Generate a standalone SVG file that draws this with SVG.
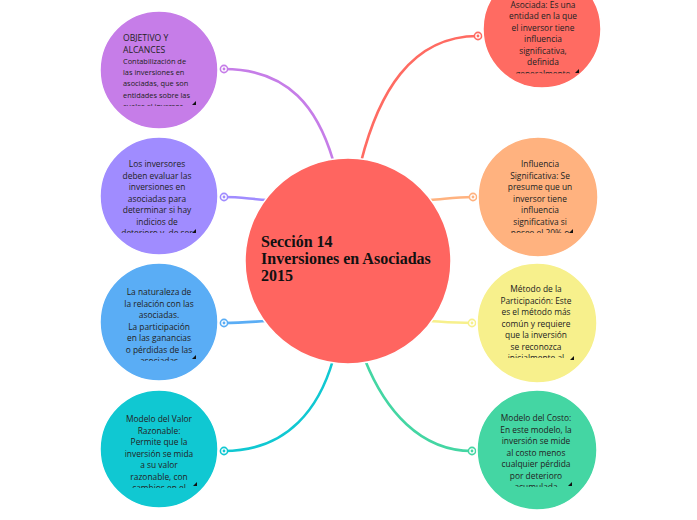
<svg xmlns="http://www.w3.org/2000/svg" width="697" height="520" viewBox="0 0 697 520">
<style>
.t{font-family:"Open Sans","Noto Sans",sans-serif;font-size:8.4px;fill:#222;text-anchor:middle}
.tl{font-family:"Open Sans","Noto Sans",sans-serif;fill:#222}
.title{font-family:"Liberation Serif","DejaVu Serif",serif;font-weight:bold;font-size:16px;fill:#111}
.node{stroke:#fff;stroke-width:1.5}
.c{fill:none;stroke-width:2.6;stroke-linecap:round}
.dot{fill:#fff;stroke-width:1.6}
.mk{fill:#111}
</style>
<defs>
<clipPath id="k1"><rect x="100" y="0" width="120" height="106"/></clipPath>
<clipPath id="k2"><rect x="100" y="130" width="120" height="103"/></clipPath>
<clipPath id="k3"><rect x="100" y="260" width="120" height="101"/></clipPath>
<clipPath id="k4"><rect x="100" y="385" width="120" height="103"/></clipPath>
<clipPath id="k5"><rect x="480" y="0" width="120" height="73.5"/></clipPath>
<clipPath id="k6"><rect x="478" y="130" width="120" height="103"/></clipPath>
<clipPath id="k7"><rect x="478" y="255" width="120" height="103"/></clipPath>
<clipPath id="k8"><rect x="478" y="385" width="120" height="102"/></clipPath>
</defs>
<g id="connectors">
<path class="c" stroke="#c67de8" d="M224,69 C290,69 318,110 333,160"/>
<path class="c" stroke="#a08cff" d="M224,197 C240,197 250,199 268,200"/>
<path class="c" stroke="#5aadf5" d="M224,323 C240,323 250,322 266,321"/>
<path class="c" stroke="#10c8d2" d="M224,451 C290,451 320,405 333,360"/>
<path class="c" stroke="#ff6b62" d="M478,36 C410,36 378,95 361,162"/>
<path class="c" stroke="#ffb27f" d="M473,197 C455,197 445,199 430,200"/>
<path class="c" stroke="#f7f08c" d="M472,323 C455,323 445,322 430,321"/>
<path class="c" stroke="#44d6a3" d="M472,451 C420,451 385,410 365,360"/>
<circle class="dot" stroke="#c67de8" cx="224" cy="69" r="3.6"/><circle fill="#c67de8" cx="224" cy="69" r="1.4"/>
<circle class="dot" stroke="#a08cff" cx="224" cy="197" r="3.6"/><circle fill="#a08cff" cx="224" cy="197" r="1.4"/>
<circle class="dot" stroke="#5aadf5" cx="224" cy="323" r="3.6"/><circle fill="#5aadf5" cx="224" cy="323" r="1.4"/>
<circle class="dot" stroke="#10c8d2" cx="224" cy="451" r="3.6"/><circle fill="#10c8d2" cx="224" cy="451" r="1.4"/>
<circle class="dot" stroke="#ff6b62" cx="478" cy="36" r="3.6"/><circle fill="#ff6b62" cx="478" cy="36" r="1.4"/>
<circle class="dot" stroke="#ffb27f" cx="473" cy="197" r="3.6"/><circle fill="#ffb27f" cx="473" cy="197" r="1.4"/>
<circle class="dot" stroke="#f7f08c" cx="472" cy="323" r="3.6"/><circle fill="#f7f08c" cx="472" cy="323" r="1.4"/>
<circle class="dot" stroke="#44d6a3" cx="472" cy="451" r="3.6"/><circle fill="#44d6a3" cx="472" cy="451" r="1.4"/>
</g>
<g id="center">
<circle class="node" cx="348" cy="261" r="103" fill="#ff6560"/>
<text class="title" x="261" y="247">Sección 14</text>
<text class="title" x="261" y="264">Inversiones en Asociadas</text>
<text class="title" x="261" y="281">2015</text>
</g>
<g id="n1">
<circle class="node" cx="159" cy="70" r="59" fill="#c67de8"/>
<g clip-path="url(#k1)">
<text class="tl" font-size="8.6" x="123" y="41">OBJETIVO Y</text>
<text class="tl" font-size="8.6" x="123" y="53">ALCANCES</text>
<text class="tl" font-size="7.4" x="123" y="64">Contabilización de</text>
<text class="tl" font-size="7.4" x="123" y="75">las inversiones en</text>
<text class="tl" font-size="7.4" x="123" y="86">asociadas, que son</text>
<text class="tl" font-size="7.4" x="123" y="98">entidades sobre las</text>
<text class="tl" font-size="7.4" x="123" y="109">cuales el inversor</text>
</g>
<polygon class="mk" points="192,105 196,101 196,105"/>
</g>
<g id="n2">
<circle class="node" cx="159" cy="196" r="59" fill="#a08cff"/>
<g clip-path="url(#k2)">
<text class="t" x="157" y="167">Los inversores</text>
<text class="t" x="157" y="178.5">deben evaluar las</text>
<text class="t" x="157" y="190">inversiones en</text>
<text class="t" x="157" y="201.5">asociadas para</text>
<text class="t" x="157" y="213">determinar si hay</text>
<text class="t" x="157" y="224.5">indicios de</text>
<text class="t" x="157" y="236">deterioro y, de ser</text>
</g>
<polygon class="mk" points="192,233 196,229 196,233"/>
</g>
<g id="n3">
<circle class="node" cx="159" cy="322" r="59" fill="#5aadf5"/>
<g clip-path="url(#k3)">
<text class="t" x="159" y="295">La naturaleza de</text>
<text class="t" x="159" y="306.5">la relación con las</text>
<text class="t" x="159" y="318">asociadas.</text>
<text class="t" x="159" y="329.5">La participación</text>
<text class="t" x="159" y="341">en las ganancias</text>
<text class="t" x="159" y="352.5">o pérdidas de las</text>
<text class="t" x="159" y="364">asociadas</text>
</g>
<polygon class="mk" points="192,359 196,355 196,359"/>
</g>
<g id="n4">
<circle class="node" cx="159" cy="449" r="59" fill="#10c8d2"/>
<g clip-path="url(#k4)">
<text class="t" x="159" y="422">Modelo del Valor</text>
<text class="t" x="159" y="433.5">Razonable:</text>
<text class="t" x="159" y="445">Permite que la</text>
<text class="t" x="159" y="456.5">inversión se mida</text>
<text class="t" x="159" y="468">a su valor</text>
<text class="t" x="159" y="479.5">razonable, con</text>
<text class="t" x="159" y="491">cambios en el</text>
</g>
<polygon class="mk" points="193,486 197,482 197,486"/>
</g>
<g id="n5">
<circle class="node" cx="542" cy="29" r="59" fill="#ff6b62"/>
<g clip-path="url(#k5)">
<text class="t" x="543" y="7.5">Asociada: Es una</text>
<text class="t" x="543" y="19">entidad en la que</text>
<text class="t" x="543" y="30.5">el inversor tiene</text>
<text class="t" x="543" y="42">influencia</text>
<text class="t" x="543" y="53.5">significativa,</text>
<text class="t" x="543" y="65">definida</text>
<text class="t" x="543" y="76.5">generalmente</text>
</g>
<polygon class="mk" points="575,73 579,69 579,73"/>
</g>
<g id="n6">
<circle class="node" cx="538" cy="197" r="60" fill="#ffb27f"/>
<g clip-path="url(#k6)">
<text class="t" x="540" y="167">Influencia</text>
<text class="t" x="540" y="178.5">Significativa: Se</text>
<text class="t" x="540" y="190">presume que un</text>
<text class="t" x="540" y="201.5">inversor tiene</text>
<text class="t" x="540" y="213">influencia</text>
<text class="t" x="540" y="224.5">significativa si</text>
<text class="t" x="540" y="236">posee el 20% o</text>
</g>
<polygon class="mk" points="569,233 573,229 573,233"/>
</g>
<g id="n7">
<circle class="node" cx="537" cy="323" r="60" fill="#f7f08c"/>
<g clip-path="url(#k7)">
<text class="t" x="536" y="292">Método de la</text>
<text class="t" x="536" y="303.5">Participación: Este</text>
<text class="t" x="536" y="315">es el método más</text>
<text class="t" x="536" y="326.5">común y requiere</text>
<text class="t" x="536" y="338">que la inversión</text>
<text class="t" x="536" y="349.5">se reconozca</text>
<text class="t" x="536" y="361">inicialmente al</text>
</g>
<polygon class="mk" points="570,360 574,356 574,360"/>
</g>
<g id="n8">
<circle class="node" cx="537" cy="450" r="60" fill="#44d6a3"/>
<g clip-path="url(#k8)">
<text class="t" x="536" y="421">Modelo del Costo:</text>
<text class="t" x="536" y="432.5">En este modelo, la</text>
<text class="t" x="536" y="444">inversión se mide</text>
<text class="t" x="536" y="455.5">al costo menos</text>
<text class="t" x="536" y="467">cualquier pérdida</text>
<text class="t" x="536" y="478.5">por deterioro</text>
<text class="t" x="536" y="490">acumulada</text>
</g>
<polygon class="mk" points="568,486 572,482 572,486"/>
</g>
</svg>
